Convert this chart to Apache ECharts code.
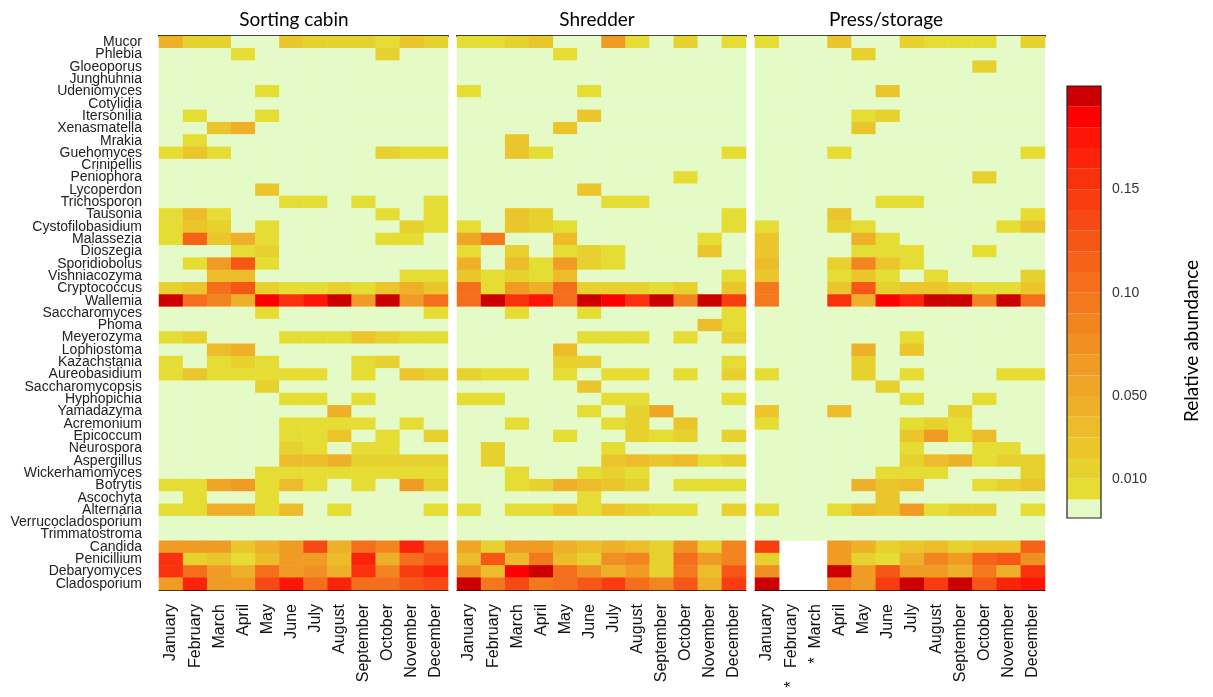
<!DOCTYPE html>
<html>
<head>
<meta charset="utf-8">
<script src="https://cdn.jsdelivr.net/npm/echarts@6/dist/echarts.min.js"></script>
<style>
  html, body { margin: 0; padding: 0; background: #fff; }
  #chart { width: 1213px; height: 697px; }
</style>
</head>
<body>
<div id="chart"></div>
<script>
// genera, top to bottom
const genera = ["Mucor", "Phlebia", "Gloeoporus", "Junghuhnia", "Udeniomyces", "Cotylidia", "Itersonilia",
  "Xenasmatella", "Mrakia", "Guehomyces", "Crinipellis", "Peniophora", "Lycoperdon", "Trichosporon",
  "Tausonia", "Cystofilobasidium", "Malassezia", "Dioszegia", "Sporidiobolus", "Vishniacozyma",
  "Cryptococcus", "Wallemia", "Saccharomyces", "Phoma", "Meyerozyma", "Lophiostoma", "Kazachstania",
  "Aureobasidium", "Saccharomycopsis", "Hyphopichia", "Yamadazyma", "Acremonium", "Epicoccum",
  "Neurospora", "Aspergillus", "Wickerhamomyces", "Botrytis", "Ascochyta", "Alternaria",
  "Verrucocladosporium", "Trimmatostroma", "Candida", "Penicillium", "Debaryomyces", "Cladosporium"];

const months = ["January", "February", "March", "April", "May", "June", "July", "August",
  "September", "October", "November", "December"];

const panelNames = ["Sorting cabin", "Shredder", "Press/storage"];
const missingMonths = ["February", "March"]; // marked * for press/storage

// relative abundance in percent (0 = not detected, null = no sample)
const sortingCabin = [
  [4.5, 1.5, 1.5, 0, 0, 3, 1.5, 1.5, 1.5, 0.8, 3, 1.5],
  [0, 0, 0, 0.8, 0, 0, 0, 0, 0, 1.5, 0, 0],
  [0, 0, 0, 0, 0, 0, 0, 0, 0, 0, 0, 0],
  [0, 0, 0, 0, 0, 0, 0, 0, 0, 0, 0, 0],
  [0, 0, 0, 0, 0.8, 0, 0, 0, 0, 0, 0, 0],
  [0, 0, 0, 0, 0, 0, 0, 0, 0, 0, 0, 0],
  [0, 0.8, 0, 0, 0.8, 0, 0, 0, 0, 0, 0, 0],
  [0, 0, 3, 4.5, 0, 0, 0, 0, 0, 0, 0, 0],
  [0, 0.8, 0, 0, 0, 0, 0, 0, 0, 0, 0, 0],
  [0.8, 3, 0.8, 0, 0, 0, 0, 0, 0, 1.5, 0.8, 0.8],
  [0, 0, 0, 0, 0, 0, 0, 0, 0, 0, 0, 0],
  [0, 0, 0, 0, 0, 0, 0, 0, 0, 0, 0, 0],
  [0, 0, 0, 0, 3, 0, 0, 0, 0, 0, 0, 0],
  [0, 0, 0, 0, 0, 0.8, 0.8, 0, 0.8, 0, 0, 0.8],
  [0.8, 4, 0.8, 0, 0, 0, 0, 0, 0, 0.8, 0, 0.8],
  [0.8, 3, 1.5, 0, 0.8, 0, 0, 0, 0, 0, 1.5, 0.8],
  [0.8, 12, 3, 4.5, 0.8, 0, 0, 0, 0, 0.8, 0.8, 0],
  [0, 0, 0, 0.8, 1.5, 0, 0, 0, 0, 0, 0, 0],
  [0, 0.8, 6.5, 12.5, 0.8, 0, 0, 0, 0, 0, 0, 0],
  [0, 0, 3.5, 3.5, 0, 0, 0, 0, 0, 0, 0.8, 0.8],
  [1.5, 3, 10.5, 12.5, 1.5, 0.8, 0.8, 1.5, 0.8, 3, 4.5, 3],
  [19.5, 10.5, 9, 4.5, 18.5, 15.5, 18, 19.5, 6.5, 19.5, 6.5, 10.5],
  [0, 0, 0, 0, 0.8, 0, 0, 0, 0, 0, 0, 0.8],
  [0, 0, 0, 0, 0, 0, 0, 0, 0, 0, 0, 0],
  [0.8, 1.5, 0, 0, 0, 0.8, 0.8, 0.8, 3, 1.5, 0.8, 0.8],
  [0, 0, 4, 4.5, 0, 0, 0, 0, 0, 0, 0, 0],
  [0.8, 0, 0.8, 1.5, 0.8, 0, 0, 0, 0.8, 1.5, 0, 0],
  [0.8, 3, 0.8, 0.8, 0.8, 0.8, 0.8, 0, 0.8, 0, 3, 1.5],
  [0, 0, 0, 0, 1.5, 0, 0, 0, 0, 0, 0, 0],
  [0, 0, 0, 0, 0, 0.8, 0.8, 0, 0.8, 0, 0, 0],
  [0, 0, 0, 0, 0, 0, 0, 4.5, 0, 0, 0, 0],
  [0, 0, 0, 0, 0, 0.8, 0.8, 0.5, 0.8, 0, 0.8, 0],
  [0, 0, 0, 0, 0, 0.5, 0.8, 3, 0, 0.8, 0, 1.5],
  [0, 0, 0, 0, 0, 1.5, 0.8, 0, 0.8, 0.8, 0, 0],
  [0, 0, 0, 0, 0, 4, 4, 4.5, 1.5, 1.5, 1.5, 1.5],
  [0, 0, 0, 0, 0.8, 0.5, 0.8, 0.8, 0.8, 0.8, 0.8, 0.8],
  [0.8, 0.8, 6, 6.5, 0.8, 4, 0.8, 0, 0.8, 0, 6.5, 1.5],
  [0, 0.8, 0, 0, 0.8, 0, 0, 0, 0, 0, 0, 0],
  [0.8, 0.8, 4.5, 4.5, 0.8, 4, 0, 0.8, 0, 0, 0, 0.8],
  [0, 0, 0, 0, 0, 0, 0, 0, 0, 0, 0, 0],
  [0, 0, 0, 0, 0, 0, 0, 0, 0, 0, 0, 0],
  [6.5, 6.5, 6.5, 3, 5, 7, 14, 4.5, 10.5, 9, 16.5, 11],
  [15.5, 1.5, 3, 0.5, 3.5, 7, 7, 3.5, 16.5, 5, 10.5, 12.5],
  [15.5, 10.5, 7, 5, 11, 7, 7.5, 5, 15.5, 9, 15, 16.5],
  [7, 16.5, 7, 7, 14, 17.5, 11, 17, 10.5, 10.5, 12.5, 13.5]
];

const shredder = [
  [0.8, 0.8, 1.5, 3, 0, 0, 6.5, 0.8, 0, 1.5, 0, 0.8],
  [0, 0, 0, 0, 0.8, 0, 0, 0, 0, 0, 0, 0],
  [0, 0, 0, 0, 0, 0, 0, 0, 0, 0, 0, 0],
  [0, 0, 0, 0, 0, 0, 0, 0, 0, 0, 0, 0],
  [0.8, 0, 0, 0, 0, 0.8, 0, 0, 0, 0, 0, 0],
  [0, 0, 0, 0, 0, 0, 0, 0, 0, 0, 0, 0],
  [0, 0, 0, 0, 0, 3, 0, 0, 0, 0, 0, 0],
  [0, 0, 0, 0, 3, 0, 0, 0, 0, 0, 0, 0],
  [0, 0, 3, 0, 0, 0, 0, 0, 0, 0, 0, 0],
  [0, 0, 3, 0.8, 0, 0, 0, 0, 0, 0, 0, 0.8],
  [0, 0, 0, 0, 0, 0, 0, 0, 0, 0, 0, 0],
  [0, 0, 0, 0, 0, 0, 0, 0, 0, 0.8, 0, 0],
  [0, 0, 0, 0, 0, 3, 0, 0, 0, 0, 0, 0],
  [0, 0, 0, 0, 0, 0, 0.8, 0.8, 0, 0, 0, 0],
  [0, 0, 3, 1.5, 0, 0, 0, 0, 0, 0, 0, 0.8],
  [0.8, 0, 3, 1.5, 0.8, 0, 0, 0, 0, 0, 0, 0.8],
  [6, 10, 0, 0, 3.5, 0, 0, 0, 0, 0, 0.8, 0],
  [0.8, 0, 1.5, 0, 0.8, 1.5, 0.8, 0, 0, 0, 3, 0],
  [4.5, 0, 3.5, 0.8, 7, 1.5, 0.8, 0, 0, 0, 0, 0],
  [3, 0.8, 1.5, 0.8, 3.5, 0, 0, 0, 0, 0, 0, 0.8],
  [10.5, 0.8, 6.5, 4.5, 10.5, 1.5, 1.5, 1.5, 0.8, 1.5, 0, 3],
  [10.5, 19.5, 15.5, 18, 11, 19.5, 18.5, 16, 19.5, 9, 19.5, 15],
  [0, 0, 0.8, 0, 0, 0.8, 0, 0, 0, 0, 0, 0.8],
  [0, 0, 0, 0, 0, 0, 0, 0, 0, 0, 3.5, 0.8],
  [0, 0, 0, 0, 0, 0.8, 0.8, 0.8, 0, 0.8, 0, 1.5],
  [0, 0, 0, 0, 4, 0, 0, 0, 0, 0, 0, 0],
  [0, 0, 0, 0, 1.5, 1.5, 0, 0, 0, 0, 0, 0.8],
  [1.5, 0.8, 0.8, 0, 0.8, 0, 0.8, 0.8, 0, 0.8, 0, 1.5],
  [0, 0, 0, 0, 0, 3, 0, 0, 0, 0, 0, 0],
  [0.8, 0.8, 0, 0, 0, 0, 0.8, 0.8, 0, 0, 0, 0.8],
  [0, 0, 0, 0, 0, 0.8, 0, 1.5, 5.5, 0, 0, 0],
  [0, 0, 0.8, 0, 0, 0, 0.8, 1.5, 0, 3, 0, 0],
  [0, 0, 0, 0, 0.8, 0, 0, 1.5, 0.8, 1.5, 0, 1.5],
  [0, 1.5, 0, 0, 0, 0, 0.8, 0, 0, 0, 0, 0],
  [0, 1.5, 0, 0, 0, 0, 3, 4, 3, 4, 0.8, 1.5],
  [0, 0, 0.8, 0, 0, 0.8, 1.5, 0.8, 0, 0, 0, 0],
  [0, 0, 0.8, 1.5, 4.5, 3.5, 3, 1.5, 0, 0.8, 0.8, 0.8],
  [0, 0, 0, 0, 0, 0.8, 0, 0, 0, 0, 0, 0],
  [0.8, 0, 0.8, 0.8, 3, 0.8, 3, 1.5, 0.8, 0.8, 0, 1.5],
  [0, 0, 0, 0, 0, 0, 0, 0, 0, 0, 0, 0],
  [0, 0, 0, 0, 0, 0, 0, 0, 0, 0, 0, 0],
  [6, 1.5, 6.5, 7, 5, 3.5, 5, 4, 1.5, 7.5, 1.5, 8.5],
  [3.5, 12.5, 3.5, 10, 3.5, 1.5, 8, 9, 1.5, 10.5, 6.5, 9],
  [8, 4, 18.5, 19.5, 10.5, 8, 5, 6.5, 1.5, 10, 4, 13],
  [19.5, 10, 14, 10, 10.5, 12.5, 15, 10.5, 8.5, 12.5, 5, 15]
];

const pressStorage = [
  [0.8, 0, 0, 3, 0, 0, 1.5, 0.8, 0.8, 0.8, 0, 1.5],
  [0, 0, 0, 0, 1.5, 0, 0, 0, 0, 0, 0, 0],
  [0, 0, 0, 0, 0, 0, 0, 0, 0, 1.5, 0, 0],
  [0, 0, 0, 0, 0, 0, 0, 0, 0, 0, 0, 0],
  [0, 0, 0, 0, 0, 3, 0, 0, 0, 0, 0, 0],
  [0, 0, 0, 0, 0, 0, 0, 0, 0, 0, 0, 0],
  [0, 0, 0, 0, 0.8, 1.5, 0, 0, 0, 0, 0, 0],
  [0, 0, 0, 0, 3, 0, 0, 0, 0, 0, 0, 0],
  [0, 0, 0, 0, 0, 0, 0, 0, 0, 0, 0, 0],
  [0, 0, 0, 0.8, 0, 0, 0, 0, 0, 0, 0, 0.8],
  [0, 0, 0, 0, 0, 0, 0, 0, 0, 0, 0, 0],
  [0, 0, 0, 0, 0, 0, 0, 0, 0, 1.5, 0, 0],
  [0, 0, 0, 0, 0, 0, 0, 0, 0, 0, 0, 0],
  [0, 0, 0, 0, 0, 0.8, 0.8, 0, 0, 0, 0, 0],
  [0, 0, 0, 3, 0, 0, 0, 0, 0, 0, 0, 0.8],
  [0.8, 0, 0, 1.5, 0.8, 0, 0, 0, 0, 0, 0.8, 3],
  [3, 0, 0, 0, 4.5, 0.8, 0, 0, 0, 0, 0, 0],
  [3, 0, 0, 0, 0.8, 0.8, 0.8, 0, 0, 0.8, 0, 0],
  [4, 0, 0, 1.5, 8.5, 3, 0.8, 0, 0, 0, 0, 0],
  [3, 0, 0, 0.8, 3, 0.8, 0, 0.8, 0, 0, 0, 1.5],
  [10, 0, 0, 3, 13, 1.5, 3, 3, 1.5, 0.8, 0.8, 3],
  [10, 0, 0, 15.5, 4.5, 18.5, 17, 19.5, 19.5, 8.5, 19.5, 10.5],
  [0, 0, 0, 0, 0, 0, 0, 0, 0, 0, 0, 0],
  [0, 0, 0, 0, 0, 0, 0, 0, 0, 0, 0, 0],
  [0, 0, 0, 0, 0, 0, 0.8, 0, 0, 0, 0, 0],
  [0, 0, 0, 0, 4.5, 0, 3, 0, 0, 0, 0, 0],
  [0, 0, 0, 0, 1.5, 0, 0, 0, 0, 0, 0, 0],
  [0.8, 0, 0, 0, 1.5, 0, 0.8, 0, 0, 0, 0.8, 0.8],
  [0, 0, 0, 0, 0, 1.5, 0, 0, 0, 0, 0, 0],
  [0, 0, 0, 0, 0, 0, 0.8, 0, 0, 0.8, 0, 0],
  [3, 0, 0, 4, 0, 0, 0, 0, 1.5, 0, 0, 0],
  [0.8, 0, 0, 0, 0, 0, 0.8, 1.5, 0.8, 0, 0, 0],
  [0, 0, 0, 0, 0, 0, 3, 6.5, 0.8, 4, 0, 0],
  [0, 0, 0, 0, 0, 0, 0.8, 0, 0, 0.8, 0.8, 0],
  [0, 0, 0, 0, 0, 0, 1.5, 4, 4.5, 0.8, 1.5, 1.5],
  [0, 0, 0, 0, 0, 0.8, 0.8, 0.8, 0, 0, 0, 1.5],
  [0, 0, 0, 0, 4.5, 3, 4, 0, 0, 0.8, 1.5, 3],
  [0, 0, 0, 0, 0, 3, 0, 0, 0, 0, 0, 0],
  [0.8, 0, 0, 0.8, 4, 3, 6.5, 0.8, 1.5, 1.5, 0, 0.8],
  [0, 0, 0, 0, 0, 0, 0, 0, 0, 0, 0, 0],
  [0, 0, 0, 0, 0, 0, 0, 0, 0, 0, 0, 0],
  [15, null, null, 6.5, 4.5, 1.5, 3, 4, 1.5, 3, 3, 11.5],
  [1.5, null, null, 6.5, 1.5, 0.5, 4.5, 8.5, 6.5, 11.5, 13, 7.5],
  [8, null, null, 19.5, 7, 13, 6.5, 6.5, 4.5, 10, 4.5, 15.5],
  [19.5, null, null, 8.5, 7, 15, 19.5, 15, 19.5, 12.5, 17, 18]
];

// colour scale: 0 = pale green, then 20 bins of 0.01
const zeroColor = "#e4fac7";
const binColors = ["#e6dd34", "#e6d12f", "#eac62c", "#ecbc2b", "#eeb029", "#efa627", "#f09b24",
  "#f19022", "#f38520", "#f4791e", "#f56e1b", "#f56218", "#f65616", "#f74913", "#f93d10",
  "#fa310d", "#fb240a", "#fd1607", "#ff0000", "#cc0000"];
const colorbarTicks = [0.01, 0.05, 0.1, 0.15];
const colorbarLabels = ["0.010", "0.050", "0.10", "0.15"];

function cells(rows) {
  const out = [];
  rows.forEach((r, y) => r.forEach((v, x) => {
    if (v !== null) out.push([x, y, v / 100]);
  }));
  return out;
}

const pieces = [{ lte: 0, color: zeroColor }];
binColors.forEach((c, i) => {
  if (i === binColors.length - 1) pieces.push({ gt: i / 100, color: c });
  else pieces.push({ gt: i / 100, lte: (i + 1) / 100, color: c });
});

// colorbar segments [lo, hi]
const barMin = -0.009;
const barSegs = [[0, barMin, 0]].concat(binColors.map((c, i) => [0, i / 100, (i + 1) / 100]));
const barSegColors = [zeroColor].concat(binColors);

const panelData = [sortingCabin, shredder, pressStorage];
const gridLefts = [159, 457, 755];
const gridWidths = [289, 289, 290];
const titleX = [294, 597, 886];

const grids = gridLefts.map((l, i) => ({ left: l, width: gridWidths[i], top: 36, height: 554 }));
grids.push({ left: 1067, width: 34, top: 86, height: 432 });

const xAxes = [];
gridLefts.forEach((l, i) => {
  xAxes.push({
    type: "category", gridIndex: i, data: months, position: "bottom",
    axisLine: { lineStyle: { color: "#111", width: 1 } },
    axisTick: { alignWithLabel: true, length: 8, lineStyle: { color: "#111" } },
    axisLabel: {
      rotate: 90, interval: 0, fontSize: 16, color: "#111", margin: 14,
      fontFamily: "Liberation Sans",
      formatter: v => {
        if (i !== 2 || missingMonths.indexOf(v) < 0) return v;
        return v === "February" ? "*   " + v : "*  " + v;
      }
    }
  });
});
gridLefts.forEach((l, i) => {
  xAxes.push({
    type: "category", gridIndex: i, data: months, position: "top",
    axisLine: { lineStyle: { color: "#111", width: 2 } },
    axisTick: { show: false }, axisLabel: { show: false }
  });
});
xAxes.push({ type: "category", gridIndex: 3, data: [""], show: false });

const yAxes = gridLefts.map((l, i) => ({
  type: "category", gridIndex: i, data: genera, inverse: true,
  axisLine: { show: false }, axisTick: { show: false },
  axisLabel: {
    show: i === 0, interval: 0, fontSize: 14, color: "#222", margin: 17,
    fontFamily: "Liberation Sans"
  }
}));
yAxes.push({
  type: "value", gridIndex: 3, position: "right", min: barMin, max: 0.2,
  splitLine: { show: false }, axisLine: { show: false },
  axisTick: { customValues: colorbarTicks, length: 7, lineStyle: { color: "#333" } },
  axisLabel: {
    customValues: colorbarTicks, fontSize: 14, color: "#333", margin: 11,
    fontFamily: "Liberation Sans",
    formatter: v => {
      const k = colorbarTicks.findIndex(t => Math.abs(t - v) < 1e-9);
      return k >= 0 ? colorbarLabels[k] : "";
    }
  }
});

const series = panelData.map((rows, i) => ({
  type: "heatmap", xAxisIndex: i, yAxisIndex: i, data: cells(rows),
  itemStyle: { borderWidth: 0 }, emphasis: { disabled: true }, silent: true
}));

series.push({
  type: "custom", xAxisIndex: 6, yAxisIndex: 3, data: barSegs, silent: true,
  encode: { x: 0, y: [1, 2] },
  renderItem: (params, api) => {
    const lo = api.coord([0, api.value(1)]);
    const hi = api.coord([0, api.value(2)]);
    const w = api.size([1, 0])[0];
    return {
      type: "rect",
      shape: { x: lo[0] - w / 2, y: hi[1], width: w, height: lo[1] - hi[1] },
      style: { fill: barSegColors[params.dataIndex] }
    };
  }
});
// frame round the colorbar
series.push({
  type: "custom", xAxisIndex: 6, yAxisIndex: 3, data: [[0, barMin, 0.2]], silent: true, z: 5,
  renderItem: (params, api) => {
    const lo = api.coord([0, api.value(1)]);
    const hi = api.coord([0, api.value(2)]);
    const w = api.size([1, 0])[0];
    return {
      type: "rect",
      shape: { x: lo[0] - w / 2, y: hi[1], width: w, height: lo[1] - hi[1] },
      style: { fill: null, stroke: "#222", lineWidth: 1.2 }
    };
  }
});

const graphics = panelNames.map((n, i) => ({
  type: "text", x: titleX[i], y: 20,
  style: { text: n, fontSize: 19, fontFamily: "Lato", fill: "#000", align: "center", verticalAlign: "middle" }
}));
graphics.push({
  type: "text", x: 1192, y: 341, rotation: Math.PI / 2,
  style: { text: "Relative abundance", fontSize: 19, fontFamily: "Lato", fill: "#000", align: "center", verticalAlign: "middle" }
});

const chart = echarts.init(document.getElementById("chart"));
chart.setOption({
  backgroundColor: "#fff",
  animation: false,
  grid: grids,
  xAxis: xAxes,
  yAxis: yAxes,
  visualMap: { type: "piecewise", show: false, seriesIndex: [0, 1, 2], pieces: pieces },
  graphic: graphics,
  series: series
});
</script>
</body>
</html>
